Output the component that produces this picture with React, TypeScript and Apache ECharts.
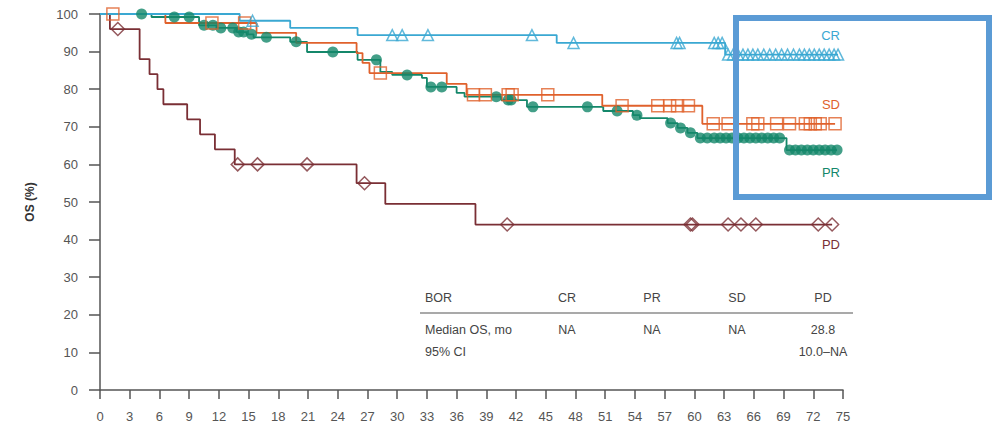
import React, { useEffect, useRef } from "react";
import * as echarts from "echarts";

// ---- Kaplan-Meier curves (months, OS %) ----
const CR_TIMES = [0, 14.1, 19.2, 26.0, 46.1, 63.1, 74.5];
const CR_SURV = [100, 98.2, 96.3, 94.4, 92.3, 89.2, 89.2];
const CR_CENSOR = [15.4, 29.5, 30.5, 33.1, 43.6, 47.8, 58.2, 58.5, 62.0, 62.4, 62.8, 63.4, 63.9, 64.4, 64.9, 65.4, 65.9, 66.4, 67.0, 67.6, 68.2, 68.8, 69.4, 70.0, 70.6, 71.1, 71.6, 72.1, 72.6, 73.1, 73.6, 74.1, 74.5];

const PR_TIMES = [0, 5.2, 10.0, 11.8, 13.8, 14.8, 15.5, 19.2, 20.9, 26.0, 28.3, 29.5, 32.5, 33.0, 36.0, 36.8, 40.5, 43.1, 50.8, 53.8, 54.5, 57.3, 58.3, 59.3, 60.3, 69.3, 74.4];
const PR_SURV = [100, 99.2, 97.0, 96.3, 95.2, 94.6, 93.8, 92.6, 89.9, 87.8, 84.6, 83.8, 83.0, 80.6, 79.0, 78.0, 77.1, 75.3, 74.2, 73.1, 72.3, 71.0, 69.7, 68.4, 67.0, 63.8, 63.8];
const PR_CENSOR = [4.2, 7.5, 9.0, 10.5, 11.4, 12.2, 13.4, 14.0, 14.5, 15.3, 16.8, 19.8, 23.5, 27.9, 31.0, 33.4, 34.5, 40.0, 41.2, 41.5, 43.7, 49.2, 52.2, 54.2, 57.6, 58.6, 59.6, 60.6, 61.3, 62.0, 62.6, 63.2, 63.8, 64.4, 65.0, 65.6, 66.2, 66.8, 67.4, 68.0, 68.6, 69.6, 70.2, 70.8, 71.4, 72.0, 72.6, 73.2, 73.8, 74.4];

const SD_TIMES = [0, 6.6, 15.8, 19.8, 25.9, 26.5, 27.2, 35.0, 37.0, 50.7, 60.8, 74.2];
const SD_SURV = [100, 97.6, 95.0, 92.3, 89.6, 87.0, 84.3, 81.4, 78.5, 75.6, 70.8, 70.8];
const SD_CENSOR = [1.3, 11.3, 14.6, 28.3, 37.7, 38.9, 41.2, 41.6, 45.2, 52.7, 56.3, 57.5, 58.3, 59.4, 61.9, 63.4, 65.9, 66.4, 68.3, 69.6, 71.2, 71.7, 72.2, 72.7, 74.2];

const PD_TIMES = [0, 1.0, 4.0, 5.0, 5.8, 6.4, 8.8, 10.1, 11.6, 13.6, 25.9, 28.8, 37.9, 73.9];
const PD_SURV = [100, 96, 88, 84, 80, 76, 72, 68, 64, 60, 55, 49.5, 44, 44];
const PD_CENSOR = [1.8, 13.9, 15.9, 20.9, 26.7, 41.1, 59.6, 59.8, 63.4, 64.7, 66.2, 72.5, 73.9];

// ---- Table ----
const TABLE_HEADER = ["BOR", "CR", "PR", "SD", "PD"];
const TABLE_MEDIAN = ["Median OS, mo", "NA", "NA", "NA", "28.8"];
const TABLE_CI = ["95% CI", "", "", "", "10.0\u2013NA"];

const X_TICKS_MAX = 75;

const COLORS = {
  CR: "#3aa8d2",
  PR: "#14876a",
  SD: "#e0612c",
  PD: "#7a2f35",
};

function survAt(times: number[], surv: number[], t: number) {
  let v = surv[0];
  for (let i = 0; i < times.length; i++) {
    if (times[i] <= t) v = surv[i];
  }
  return v;
}

function curve(times: number[], surv: number[]) {
  return times.map((t, i) => [t, surv[i]]);
}

function censor(times: number[], surv: number[], cens: number[]) {
  return cens.map((t) => [t, survAt(times, surv, t)]);
}

export default function App() {
  const ref = useRef<HTMLDivElement>(null);
  useEffect(() => {
    if (!ref.current) return;
    const chart = echarts.init(ref.current, undefined, { renderer: "svg" });
    const font = "'Liberation Sans', Arial, Helvetica, sans-serif";
    const lineSeries = (name: string, times: number[], surv: number[], color: string) => ({
      name,
      type: "line",
      step: "end",
      data: curve(times, surv),
      showSymbol: false,
      symbol: "none",
      lineStyle: { color, width: 1.8 },
      silent: true,
      z: 2,
    });
    const censorSeries = (
      name: string,
      times: number[],
      surv: number[],
      cens: number[],
      color: string,
      symbol: string,
      size: number,
      filled: boolean
    ) => ({
      name: name + "_c",
      type: "scatter",
      data: censor(times, surv, cens),
      symbol,
      symbolSize: size,
      itemStyle: filled
        ? { color, borderWidth: 0 }
        : { color: "rgba(255,255,255,0)", borderColor: color, borderWidth: 1.5 },
      silent: true,
      z: 3,
    });

    const tableCols = [425, 567, 652, 737, 823];
    const tableTexts: any[] = [];
    const rows = [
      { vals: TABLE_HEADER, y: 298 },
      { vals: TABLE_MEDIAN, y: 330 },
      { vals: TABLE_CI, y: 352 },
    ];
    rows.forEach((r) => {
      r.vals.forEach((v, i) => {
        if (!v) return;
        tableTexts.push({
          type: "text",
          x: tableCols[i],
          y: r.y,
          style: {
            text: v,
            fill: "#444",
            font: `12.5px ${font}`,
            textAlign: i === 0 ? "left" : "center",
            textVerticalAlign: "middle",
          },
        });
      });
    });

    const labelItems = [
      { t: "CR", y: 35, c: COLORS.CR },
      { t: "SD", y: 104, c: COLORS.SD },
      { t: "PR", y: 172, c: COLORS.PR },
      { t: "PD", y: 244, c: COLORS.PD },
    ].map((l) => ({
      type: "text",
      x: 840,
      y: l.y,
      style: {
        text: l.t,
        fill: l.c,
        font: `13px ${font}`,
        textAlign: "right",
        textVerticalAlign: "middle",
      },
    }));

    chart.setOption({
      animation: false,
      backgroundColor: "#ffffff",
      grid: { left: 100, right: 152, top: 14, bottom: 37, containLabel: false },
      xAxis: {
        type: "value",
        min: 0,
        max: X_TICKS_MAX,
        interval: 3,
        axisLine: { show: true, lineStyle: { color: "#555", width: 1.5 } },
        axisTick: { show: true, length: 9, inside: false, lineStyle: { color: "#555", width: 1.5 } },
        axisLabel: { color: "#555", fontSize: 13, fontFamily: font, margin: 20 },
        splitLine: { show: false },
      },
      yAxis: {
        type: "value",
        min: 0,
        max: 100,
        interval: 10,
        name: "OS (%)",
        nameLocation: "middle",
        nameGap: 64,
        nameTextStyle: { color: "#333", fontSize: 12, fontWeight: "bold", fontFamily: font },
        axisLine: { show: true, lineStyle: { color: "#555", width: 1.5 } },
        axisTick: { show: true, length: 11, lineStyle: { color: "#555", width: 1.5 } },
        axisLabel: { color: "#555", fontSize: 13, fontFamily: font, margin: 22 },
        splitLine: { show: false },
      },
      series: [
        lineSeries("PD", PD_TIMES, PD_SURV, COLORS.PD),
        lineSeries("PR", PR_TIMES, PR_SURV, COLORS.PR),
        lineSeries("SD", SD_TIMES, SD_SURV, COLORS.SD),
        lineSeries("CR", CR_TIMES, CR_SURV, COLORS.CR),
        censorSeries("PD", PD_TIMES, PD_SURV, PD_CENSOR, COLORS.PD, "diamond", 13, false),
        censorSeries("PR", PR_TIMES, PR_SURV, PR_CENSOR, COLORS.PR, "circle", 11, true),
        censorSeries("SD", SD_TIMES, SD_SURV, SD_CENSOR, COLORS.SD, "rect", 12, false),
        censorSeries("CR", CR_TIMES, CR_SURV, CR_CENSOR, COLORS.CR, "triangle", 11, false),
      ],
      graphic: [
        ...labelItems,
        ...tableTexts,
        {
          type: "line",
          shape: { x1: 420, y1: 313, x2: 853, y2: 313 },
          style: { stroke: "#555", lineWidth: 1.2 },
        },
        {
          type: "rect",
          shape: { x: 736, y: 18, width: 253, height: 179 },
          style: { fill: "none", stroke: "#5b9bd5", lineWidth: 6 },
          z: 100,
        },
      ],
    });
    return () => chart.dispose();
  }, []);
  return (
    <div
      ref={ref}
      style={{ position: "fixed", left: 0, top: 0, width: 995, height: 427 }}
    />
  );
}
